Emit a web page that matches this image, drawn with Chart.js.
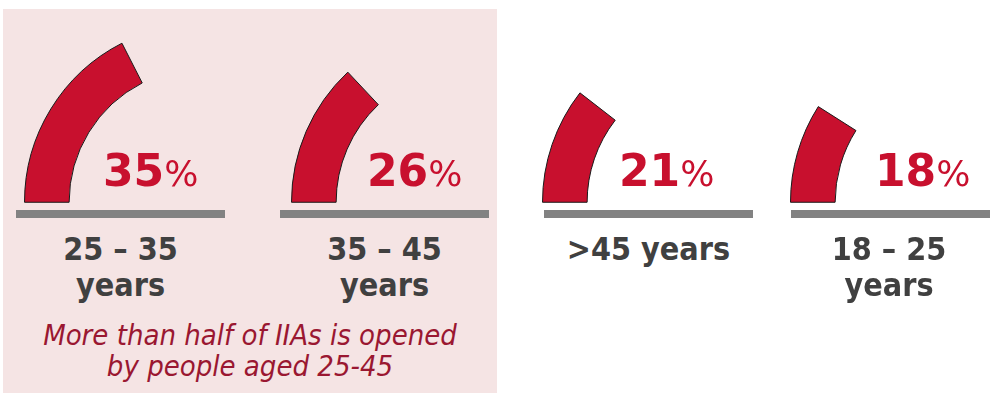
<!DOCTYPE html>
<html>
<head>
<meta charset="utf-8">
<script src="https://cdn.jsdelivr.net/npm/chart.js@4.4.1/dist/chart.umd.min.js"></script>
<style>
  html, body { margin: 0; padding: 0; background: #ffffff; }
  #stage { position: relative; width: 990px; height: 393px; overflow: hidden; }
  .panel { position: absolute; left: 3px; top: 9px; width: 494px; height: 390px; background: #f5e4e4; }
  canvas.gauge { position: absolute; }
  .base { position: absolute; top: 210px; height: 8px; background: #828282; }
  .pct { position: absolute; top: 149px; font-family: "DejaVu Sans", Verdana, sans-serif; color: #c8102e;
         font-size: 44px; line-height: 44px; font-weight: bold; white-space: nowrap; }
  .pct span { font-size: 36px; font-weight: normal; }
  .label { position: absolute; top: 231px; width: 240px; text-align: center; color: #404040;
           font-family: "DejaVu Sans Condensed", "DejaVu Sans", sans-serif; font-weight: bold;
           font-size: 32px; line-height: 36px; }
  .note { position: absolute; left: 3px; top: 320px; width: 494px; text-align: center; color: #9a1731;
          font-family: "DejaVu Sans Condensed", "DejaVu Sans", sans-serif; font-style: italic;
          font-size: 29px; line-height: 31px; }
</style>
</head>
<body>
<div id="stage"><div class="panel"></div></div>
<script>
// age groups and share of IIAs opened (%)
const ageGroups = [["25 – 35", "years"], ["35 – 45", "years"], [">45 years"], ["18 – 25", "years"]]
const shares = [35, 26, 21, 18]
const gaugeMax = 100
const noteLines = ["More than half of IIAs is opened", "by people aged 25-45"]

// layout (pixels)
const gaugeCenters = [203, 470, 721, 969]
const gaugeBottom = 202
const pctLeft = [103, 367, 619, 875]
const baseBars = [[16, 225], [280, 489], [544, 753], [791, 1000]]

const stage = document.getElementById("stage")
const red = "#c8102e"

shares.forEach((value, i) => {
  // half-doughnut gauge, only the filled part is visible
  const canvas = document.createElement("canvas")
  canvas.className = "gauge"
  canvas.width = 358
  canvas.height = 180
  canvas.style.left = (gaugeCenters[i] - 179) + "px"
  canvas.style.top = (gaugeBottom - 179) + "px"
  stage.appendChild(canvas)

  new Chart(canvas, {
    type: "doughnut",
    data: {
      labels: [ageGroups[i].join(" "), "rest"],
      datasets: [
        {
          data: [value, gaugeMax - value],
          backgroundColor: [red, "rgba(0,0,0,0)"],
          borderColor: ["#1a1a1a", "rgba(0,0,0,0)"],
          borderWidth: [1, 0],
          borderJoinStyle: "miter",
        },
      ],
    },
    options: {
      responsive: false,
      animation: false,
      events: [],
      rotation: -90,
      circumference: 180,
      cutout: "75%",
      plugins: {
        legend: { display: false },
        tooltip: { enabled: false },
      },
    },
  })

  const bar = document.createElement("div")
  bar.className = "base"
  bar.style.left = baseBars[i][0] + "px"
  bar.style.width = (baseBars[i][1] - baseBars[i][0]) + "px"
  stage.appendChild(bar)

  const pct = document.createElement("div")
  pct.className = "pct"
  pct.style.left = pctLeft[i] + "px"
  pct.innerHTML = value + "<span>%</span>"
  stage.appendChild(pct)

  const label = document.createElement("div")
  label.className = "label"
  const mid = Math.min((baseBars[i][0] + baseBars[i][1]) / 2, 889)
  label.style.left = (mid - 120) + "px"
  label.innerHTML = ageGroups[i].join("<br>")
  stage.appendChild(label)
})

const note = document.createElement("div")
note.className = "note"
note.innerHTML = noteLines.join("<br>")
stage.appendChild(note)
</script>
</body>
</html>
